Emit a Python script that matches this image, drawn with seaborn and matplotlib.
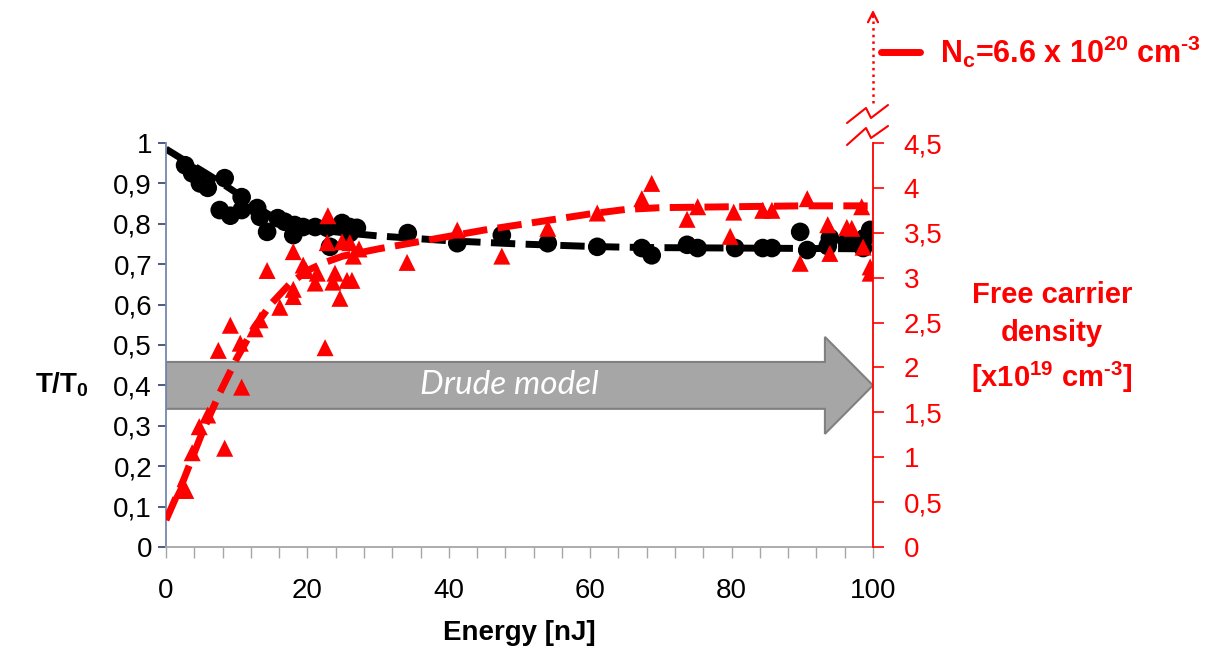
import matplotlib
matplotlib.use("Agg")
import matplotlib.pyplot as plt
import numpy as np
import pandas as pd
import seaborn as sns
from matplotlib.patches import FancyArrow
from matplotlib.lines import Line2D
from matplotlib.ticker import FuncFormatter, MultipleLocator

# T/T0 measurements (black circles)
energy_t = [2.7, 3.7, 4.8, 5.9, 7.6, 8.3, 9.1, 10.7, 10.7, 12.9, 13.3, 14.3, 15.8, 16.8,
            18.2, 18.0, 19.4, 21.1, 22.8, 23.2, 24.9, 26.0, 26.0, 27.0, 34.2, 41.2, 47.5,
            54.0, 61.0, 67.3, 68.7, 73.7, 75.2, 80.5, 84.4, 85.7, 89.7, 90.7, 93.9, 93.6,
            96.3, 97.0, 98.6, 99.6, 98.8]
trans = [0.945, 0.925, 0.90, 0.889, 0.834, 0.913, 0.82, 0.834, 0.866, 0.839, 0.817, 0.78,
         0.814, 0.805, 0.797, 0.772, 0.792, 0.792, 0.79, 0.743, 0.802, 0.792, 0.777, 0.79,
         0.777, 0.752, 0.772, 0.752, 0.743, 0.74, 0.722, 0.748, 0.74, 0.74, 0.74, 0.74,
         0.78, 0.735, 0.765, 0.745, 0.755, 0.758, 0.74, 0.785, 0.765]

# free carrier density measurements (red triangles), x10^19 cm^-3
energy_n = [2.1, 2.8, 3.7, 4.7, 5.9, 8.3, 7.4, 9.1, 10.5, 10.7, 12.6, 13.3, 14.3, 16.1,
            18.0, 18.0, 18.0, 19.4, 19.8, 21.1, 21.4, 22.5, 22.9, 22.8, 23.6, 23.9, 24.6,
            24.9, 25.6, 26.0, 26.3, 26.5, 27.3, 34.1, 41.2, 47.5, 54.0, 61.0, 67.3, 68.7,
            73.7, 75.2, 79.8, 80.3, 84.4, 85.7, 89.7, 90.7, 93.6, 93.9, 96.3, 97.0, 98.4,
            98.6, 99.6, 99.6]
density = [0.63, 0.63, 1.05, 1.34, 1.47, 1.10, 2.19, 2.47, 2.27, 1.78, 2.43, 2.53, 3.08,
           2.67, 2.79, 2.87, 3.29, 3.14, 3.08, 2.94, 3.05, 2.22, 3.69, 3.39, 2.95, 3.05,
           2.77, 3.40, 2.97, 3.39, 2.97, 3.24, 3.32, 3.17, 3.53, 3.24, 3.55, 3.72, 3.88,
           4.05, 3.65, 3.79, 3.46, 3.73, 3.75, 3.75, 3.16, 3.88, 3.59, 3.27, 3.56, 3.55,
           3.79, 3.34, 3.12, 3.05]

# fitted curves (dashed)
fit_e = [0, 2.5, 5, 7.5, 10, 12.5, 15, 17.5, 20, 22.5, 25, 30, 35, 40, 45, 50, 55, 60,
         65, 70, 80, 90, 100]
fit_t = [0.985, 0.958, 0.932, 0.905, 0.876, 0.845, 0.818, 0.80, 0.79, 0.783, 0.778,
         0.77, 0.764, 0.758, 0.754, 0.75, 0.747, 0.744, 0.742, 0.741, 0.74, 0.739, 0.738]
fit_n = [0.3, 0.75, 1.25, 1.7, 2.1, 2.45, 2.72, 2.93, 3.08, 3.17, 3.24, 3.32, 3.39,
         3.46, 3.53, 3.59, 3.65, 3.71, 3.76, 3.78, 3.79, 3.8, 3.8]

df_t = pd.DataFrame({'E': energy_t, 'T': trans})
df_n = pd.DataFrame({'E': energy_n, 'N': density})
df_fit = pd.DataFrame({'E': fit_e, 'T': fit_t, 'N': fit_n})

sns.set_style('white')
plt.rcParams['font.family'] = ['Liberation Sans', 'DejaVu Sans']
plt.rcParams['text.color'] = 'black'
plt.rcParams['xtick.labelcolor'] = 'black'
plt.rcParams['ytick.labelcolor'] = 'black'
plt.rcParams['axes.labelcolor'] = 'black'
plt.rcParams['mathtext.fontset'] = 'custom'
plt.rcParams['mathtext.rm'] = 'Liberation Sans:bold'
plt.rcParams['mathtext.it'] = 'Liberation Sans:bold'
plt.rcParams['mathtext.bf'] = 'Liberation Sans:bold'

W, H = 1217, 650
fig = plt.figure(figsize=(W / 100, H / 100), dpi=100)
ax = fig.add_axes([166 / W, 1 - 547 / H, 707 / W, 404 / H])
ax2 = ax.twinx()

comma = FuncFormatter(lambda v, _: f'{v:g}'.replace('.', ','))

# Drude model arrow (behind the data)
ax.add_patch(FancyArrow(0, 0.40, 100, 0, width=0.116, head_width=0.24, head_length=6.8,
                        length_includes_head=True, facecolor='#a6a6a6',
                        edgecolor='#808080', linewidth=1.5, zorder=0))
ax.text(48.5, 0.40, 'Drude model', color='white', fontsize=24, style='italic',
        family='Lato', ha='center', va='center', zorder=1)

sns.scatterplot(data=df_t, x='E', y='T', ax=ax, color='black', marker='o', s=180,
                edgecolor='none', zorder=3)
sns.lineplot(data=df_fit, x='E', y='T', ax=ax, color='black', linewidth=5,
             linestyle=(0, (3.5, 1.5)), zorder=2)

sns.scatterplot(data=df_n, x='E', y='N', ax=ax2, color='red', marker='^', s=150,
                edgecolor='none', zorder=3)
sns.lineplot(data=df_fit, x='E', y='N', ax=ax2, color='red', linewidth=5,
             linestyle=(0, (3.5, 1.5)), zorder=2)

ax.set_xlim(0, 100)
ax.set_ylim(0, 1)
ax2.set_ylim(0, 4.5)
ax.xaxis.set_major_locator(MultipleLocator(20))
ax.xaxis.set_minor_locator(MultipleLocator(4))
ax.yaxis.set_major_locator(MultipleLocator(0.1))
ax2.yaxis.set_major_locator(MultipleLocator(0.5))
ax.xaxis.set_major_formatter(comma)
ax.yaxis.set_major_formatter(comma)
ax2.yaxis.set_major_formatter(comma)

for a in (ax, ax2):
    a.spines['top'].set_visible(False)
    a.set_xlabel('')
    a.set_ylabel('')
ax.spines['right'].set_visible(False)
ax2.spines['left'].set_visible(False)
ax2.spines['bottom'].set_visible(False)
ax.spines['left'].set_color('#7686ad')
ax.spines['bottom'].set_color('#a6a6a6')
ax2.spines['right'].set_color('red')
for sp in ('left', 'bottom'):
    ax.spines[sp].set_linewidth(1.3)
ax2.spines['right'].set_linewidth(1.3)

ax.tick_params(axis='y', which='both', direction='out', length=6, width=1.2,
               color='#2f3f70', labelsize=20, pad=4, left=True)
ax.tick_params(axis='x', which='both', direction='out', length=8, width=1.0,
               color='#a6a6a6', labelsize=20, pad=14, bottom=True)
ax2.tick_params(axis='y', direction='out', length=8, width=1.2, color='red',
                labelcolor='red', labelsize=20, pad=14, right=True)

ax.set_xlabel('Energy [nJ]', fontsize=20, fontweight='bold', labelpad=12)
fig.text(62 / W, 1 - 385 / H, r'T/T$_\mathregular{0}$', fontsize=20, fontweight='bold',
         ha='center', va='center')
fig.text(1052 / W, 1 - 338 / H, 'Free carrier\ndensity\n'
         '[x10$^\\mathregular{19}$ cm$^\\mathregular{\u20103}$]',
         fontsize=21, fontweight='bold', color='red', ha='center', va='center',
         linespacing=1.45)

# N_c marker above the axis break
fig.add_artist(Line2D([881 / W, 920 / W], [1 - 52 / H, 1 - 52 / H], color='red', lw=5,
                      transform=fig.transFigure))
fig.text(940 / W, 1 - 52 / H,
         'N$_\\mathregular{c}$=6.6 x 10$^\\mathregular{20}$ cm$^\\mathregular{\u20103}$',
         fontsize=22, fontweight='bold', color='red', ha='left', va='center')
fig.add_artist(Line2D([873 / W, 873 / W], [1 - 103 / H, 1 - 14 / H], color='red', lw=1.8,
                      linestyle=':', transform=fig.transFigure))
ax.annotate('', xy=(873 / W, 1 - 7 / H), xytext=(873 / W, 1 - 20 / H),
            xycoords='figure fraction', textcoords='figure fraction',
            arrowprops=dict(arrowstyle='->', color='red', lw=1.6, mutation_scale=18))
for zx, zy in (([847, 866, 871, 888], [123, 108, 118, 105]),
               ([847, 866, 871, 888], [145, 128, 138, 126])):
    fig.add_artist(Line2D([v / W for v in zx], [1 - v / H for v in zy], color='red',
                          lw=1.5, transform=fig.transFigure))

fig.savefig('out.png', dpi=100)
